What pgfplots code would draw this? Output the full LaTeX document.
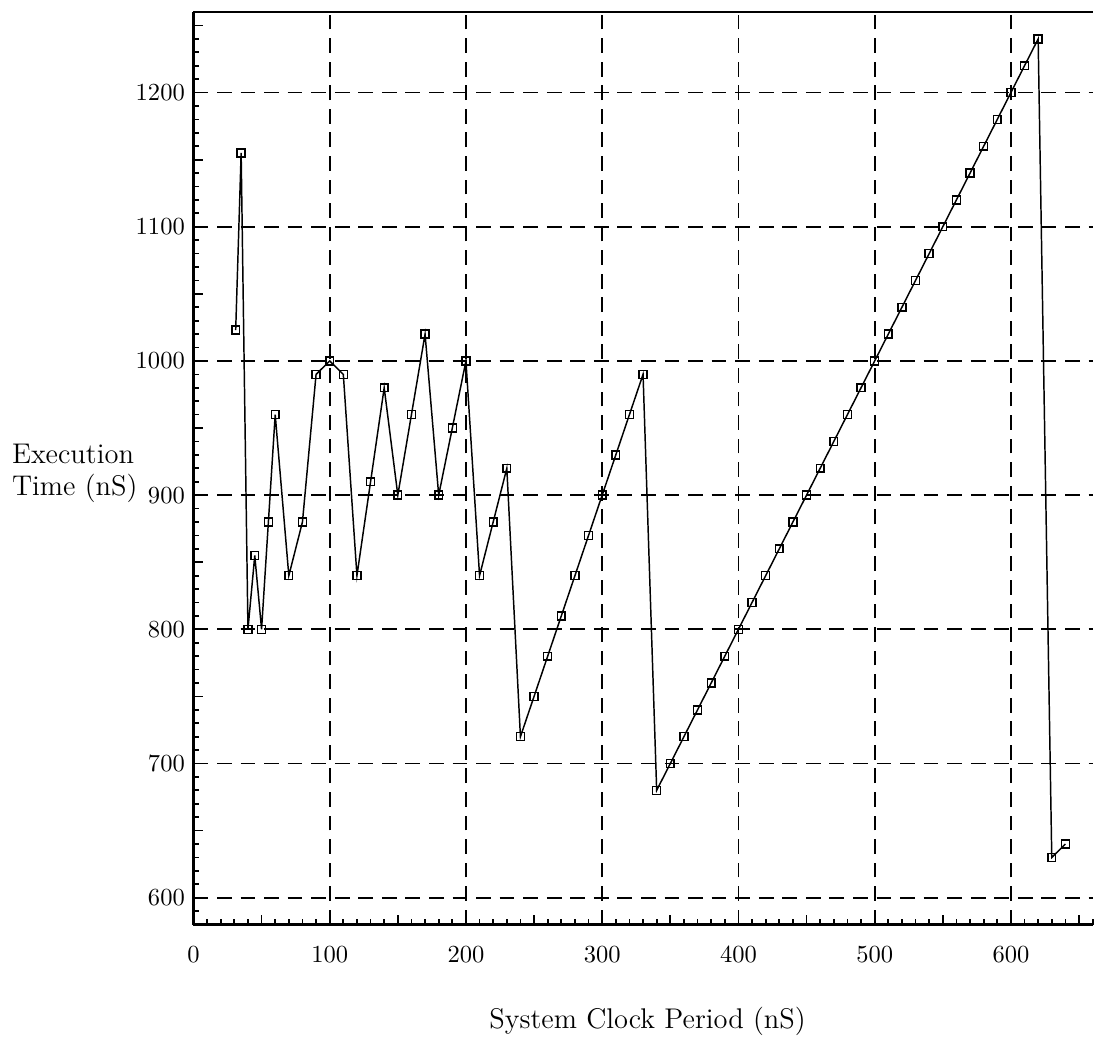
\documentclass[border=0pt]{standalone}
\usepackage{pgfplots}
\pgfplotsset{compat=1.18}

\begin{document}
\begin{tikzpicture}
\begin{axis}[
  scale only axis,
  width=12.88cm, height=13.07cm,
  xmin=0, xmax=660, ymin=580, ymax=1260,
  enlargelimits=false,
  axis x line*=box, axis y line*=left,
  axis line style={line width=1.1pt},
  xtick={0,100,...,600}, ytick={600,700,...,1200},
  minor xtick={0,10,...,660}, minor ytick={580,590,...,1260},
  extra x ticks={50,150,...,650}, extra x tick labels={},
  extra y ticks={650,750,...,1250}, extra y tick labels={},
  extra tick style={grid=none},
  xtick pos=bottom, ytick pos=left,
  tick align=inside,
  major tick length=0.14cm, minor tick length=0.08cm,
  every tick/.style={black, line width=0.7pt},
  grid=major,
  major grid style={black, line width=0.7pt, dash pattern=on 6pt off 3.6pt},
  /pgf/number format/1000 sep={},
  x tick label style={yshift=-0.2cm},
  xlabel={System Clock Period (nS)},
  xlabel style={font=\fontsize{11.6}{14}\selectfont,
    at={(axis description cs:0.505,-0.106)}, anchor=center},
  ylabel={Execution\\Time (nS)},
  ylabel style={font=\fontsize{11.6}{13}\selectfont, rotate=-90, align=left,
    at={(axis description cs:-0.132,0.494)}, anchor=center},
]
\addplot[black, line width=0.6pt, mark=square, mark size=1.6pt, mark options={solid, line width=0.6pt}]
  coordinates{
  (31,1023)(35,1155)(40,800)(45,855)(50,800)(55,880)(60,960)(70,840)(80,880)
  (90,990)(100,1000)(110,990)(120,840)(130,910)(140,980)(150,900)(160,960)
  (170,1020)(180,900)(190,950)(200,1000)(210,840)(220,880)(230,920)
  (240,720)(250,750)(260,780)(270,810)(280,840)(290,870)(300,900)(310,930)
  (320,960)(330,990)
  (340,680)(350,700)(360,720)(370,740)(380,760)(390,780)(400,800)(410,820)
  (420,840)(430,860)(440,880)(450,900)(460,920)(470,940)(480,960)(490,980)
  (500,1000)(510,1020)(520,1040)(530,1060)(540,1080)(550,1100)(560,1120)
  (570,1140)(580,1160)(590,1180)(600,1200)(610,1220)(620,1240)
  (630,630)(640,640)};
\coordinate (BL) at (axis cs:-142,496);
\coordinate (TR) at (axis cs:660,1269);
\end{axis}
\path (BL) rectangle (TR);
\end{tikzpicture}
\end{document}
